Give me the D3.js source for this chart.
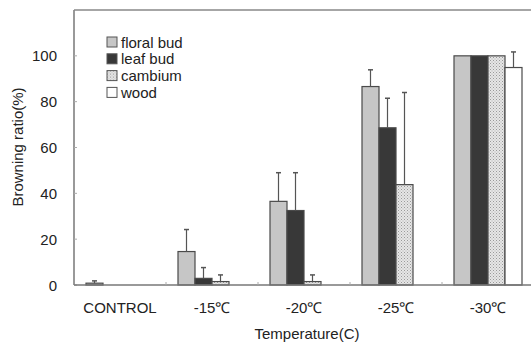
<!DOCTYPE html>
<html lang="en">
<head>
<meta charset="UTF-8">
<style>
  body { margin: 0; background: #fff; }
  text { font-family: "Liberation Sans", Arial, sans-serif; fill: #222; }
</style>
</head>
<body>
<div id="chart"></div>
<script src="https://cdn.jsdelivr.net/npm/d3@7"></script>
<script>
// data
var temps = ["CONTROL", "-15\u2103", "-20\u2103", "-25\u2103", "-30\u2103"];
var parts = ["floral bud", "leaf bud", "cambium", "wood"];
var floralBud = [0.8, 14.6, 36.5, 86.6, 100];
var leafBud = [0, 2.9, 32.5, 68.6, 100];
var cambium = [0, 1.5, 1.5, 43.8, 100];
var wood = [0, 0, 0, 0, 94.9];
var floralErr = [1.0, 9.6, 12.5, 7.3, 0];
var leafErr = [0, 4.7, 16.5, 12.9, 0];
var cambiumErr = [0, 2.9, 2.9, 40.2, 0];
var woodErr = [0, 0, 0, 0, 6.8];
var yTicks = [0, 20, 40, 60, 80, 100];

var values = [floralBud, leafBud, cambium, wood];
var errors = [floralErr, leafErr, cambiumErr, woodErr];
var fills = ["#c6c6c6", "#383838", "url(#dots)", "#ffffff"];

var width = 531, height = 344;
var margin = { top: 10, right: -3, bottom: 59, left: 74 };

var svg = d3.select("#chart").append("svg")
    .attr("width", width)
    .attr("height", height);

// dotted fill for cambium
var pat = svg.append("defs").append("pattern")
    .attr("id", "dots")
    .attr("width", 3).attr("height", 3)
    .attr("patternUnits", "userSpaceOnUse");
pat.append("rect").attr("width", 3).attr("height", 3).attr("fill", "#e6e6e6");
pat.append("rect").attr("width", 1).attr("height", 1).attr("fill", "#9a9a9a");
pat.append("rect").attr("x", 1.5).attr("y", 1.5).attr("width", 1).attr("height", 1).attr("fill", "#b0b0b0");

var x = d3.scaleBand()
    .domain(temps)
    .range([margin.left, width - margin.right])
    .paddingInner(0)
    .paddingOuter(0);

var xInner = d3.scaleBand()
    .domain(parts)
    .range([0, 68]);

var y = d3.scaleLinear()
    .domain([0, 120])
    .range([height - margin.bottom, margin.top]);

var g = svg.append("g");

// frame: left axis and top border
g.append("line")
    .attr("x1", margin.left).attr("x2", margin.left)
    .attr("y1", y(120)).attr("y2", y(0))
    .attr("stroke", "#777").attr("stroke-width", 1.5);
g.append("line")
    .attr("x1", margin.left).attr("x2", width)
    .attr("y1", y(120)).attr("y2", y(120))
    .attr("stroke", "#888").attr("stroke-width", 1.5);

// y ticks (inward)
g.selectAll(".ytick")
    .data(yTicks)
    .enter().append("line")
    .attr("x1", margin.left).attr("x2", margin.left + 3)
    .attr("y1", function (d) { return y(d); })
    .attr("y2", function (d) { return y(d); })
    .attr("stroke", "#aaa");

g.selectAll(".ylab")
    .data(yTicks)
    .enter().append("text")
    .attr("x", 57)
    .attr("y", function (d) { return y(d) + 5.5; })
    .attr("text-anchor", "end")
    .style("font-size", "15px")
    .text(function (d) { return d; });

// bars
var groups = g.selectAll(".grp")
    .data(temps)
    .enter().append("g")
    .attr("transform", function (d) {
        return "translate(" + (x(d) + (x.bandwidth() - 68) / 2) + ",0)";
    });

parts.forEach(function (p, j) {
    groups.filter(function (d, i) { return values[j][i] > 0; })
        .append("rect")
        .attr("x", xInner(p))
        .attr("width", xInner.bandwidth())
        .attr("y", function (d) { return y(values[j][temps.indexOf(d)]); })
        .attr("height", function (d) { return y(0) - y(values[j][temps.indexOf(d)]); })
        .attr("fill", fills[j])
        .attr("stroke", "#4a4a4a")
        .attr("stroke-width", 1.2);

    // error bars
    var eg = groups.filter(function (d, i) { return errors[j][i] > 0; });
    var cx = xInner(p) + xInner.bandwidth() / 2;
    eg.append("line")
        .attr("x1", cx).attr("x2", cx)
        .attr("y1", function (d) { return y(values[j][temps.indexOf(d)]); })
        .attr("y2", function (d) { var i = temps.indexOf(d); return y(values[j][i] + errors[j][i]); })
        .attr("stroke", "#555").attr("stroke-width", 1.2);
    eg.append("line")
        .attr("x1", cx - 2.5).attr("x2", cx + 2.5)
        .attr("y1", function (d) { var i = temps.indexOf(d); return y(values[j][i] + errors[j][i]); })
        .attr("y2", function (d) { var i = temps.indexOf(d); return y(values[j][i] + errors[j][i]); })
        .attr("stroke", "#555").attr("stroke-width", 1.5);
});

// x axis line
g.append("line")
    .attr("x1", margin.left).attr("x2", width)
    .attr("y1", y(0)).attr("y2", y(0))
    .attr("stroke", "#777").attr("stroke-width", 1.5);

// x ticks at band boundaries (inward)
g.selectAll(".xtick")
    .data(temps.slice(1))
    .enter().append("line")
    .attr("x1", function (d) { return x(d); })
    .attr("x2", function (d) { return x(d); })
    .attr("y1", y(0)).attr("y2", y(0) - 3)
    .attr("stroke", "#aaa");

g.selectAll(".xlab")
    .data(temps)
    .enter().append("text")
    .attr("x", function (d) { return x(d) + x.bandwidth() / 2; })
    .attr("y", 313)
    .attr("text-anchor", "middle")
    .style("font-size", "15px")
    .text(function (d) { return d; });

// axis titles
svg.append("text")
    .attr("x", 307).attr("y", 339)
    .attr("text-anchor", "middle")
    .style("font-size", "15px")
    .text("Temperature(C)");

svg.append("text")
    .attr("transform", "translate(23,147) rotate(-90)")
    .attr("text-anchor", "middle")
    .style("font-size", "15px")
    .text("Browning ratio(%)");

// legend
var legend = svg.selectAll(".legend")
    .data(parts)
    .enter().append("g")
    .attr("transform", function (d, i) { return "translate(107," + (37 + i * 16.8) + ")"; });

legend.append("rect")
    .attr("width", 10).attr("height", 10)
    .attr("fill", function (d, i) { return fills[i]; })
    .attr("stroke", "#555").attr("stroke-width", 1);

legend.append("text")
    .attr("x", 14).attr("y", 10.5)
    .style("font-size", "15px")
    .text(function (d) { return d; });
</script>
</body>
</html>
